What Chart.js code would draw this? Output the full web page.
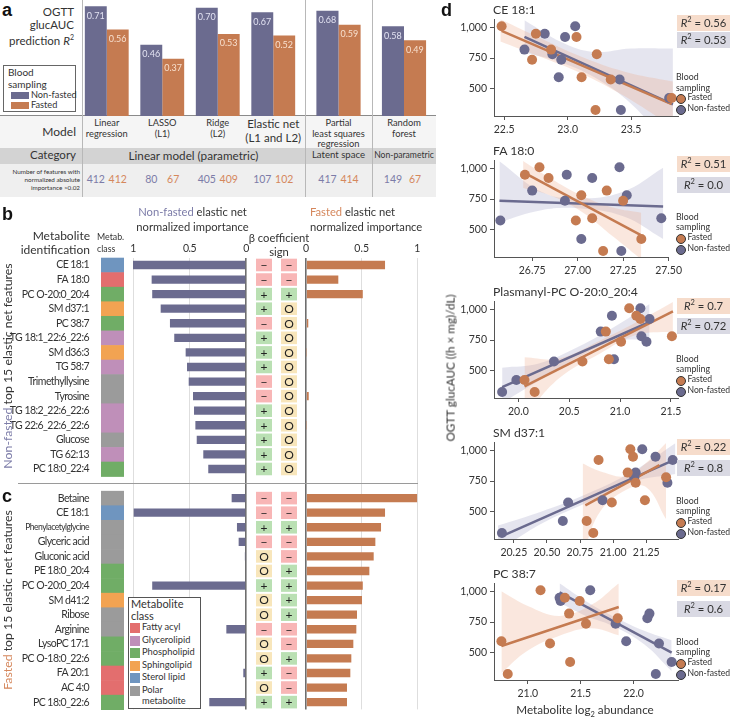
<!DOCTYPE html>
<html>
<head>
<meta charset="utf-8">
<script src="https://cdn.jsdelivr.net/npm/chart.js@4.4.1/dist/chart.umd.min.js"></script>
<style>
  body { margin: 0; background: #fff; font-family: Lato, sans-serif; color: #333; }
  #page { position: relative; width: 730px; height: 721px; overflow: hidden; }
  #page div, #page canvas { position: absolute; }
  .t { white-space: nowrap; line-height: 1.1; }
  .panel { font-family: "Liberation Sans", Arial, sans-serif; font-weight: bold; font-size: 18px; color: #111; }
</style>
</head>
<body>
<div id="page"></div>
<script>
// ---- panel a: model comparison ----
const modelNames = [['Linear', 'regression'], ['LASSO', '(L1)'], ['Ridge', '(L2)'], ['Elastic net', '(L1 and L2)'],
  ['Partial', 'least squares', 'regression'], ['Random', 'forest']];
const modelCategories = ['Linear model (parametric)', 'Latent space', 'Non-parametric'];
const r2NonFasted = [0.71, 0.46, 0.70, 0.67, 0.68, 0.58];
const r2Fasted = [0.56, 0.37, 0.53, 0.52, 0.59, 0.49];
const nFeatNonFasted = [412, 80, 405, 107, 417, 149];
const nFeatFasted = [412, 67, 409, 102, 414, 67];

// ---- panels b and c: top 15 elastic net features ----
const bNames = ['CE 18:1', 'FA 18:0', 'PC O-20:0_20:4', 'SM d37:1', 'PC 38:7', 'TG 18:1_22:6_22:6', 'SM d36:3', 'TG 58:7',
  'Trimethyllysine', 'Tyrosine', 'TG 18:2_22:6_22:6', 'TG 22:6_22:6_22:6', 'Glucose', 'TG 62:13', 'PC 18:0_22:4'];
const bClass = ['Sterol lipid', 'Fatty acyl', 'Phospholipid', 'Sphingolipid', 'Phospholipid', 'Glycerolipid', 'Sphingolipid',
  'Glycerolipid', 'Polar metabolite', 'Polar metabolite', 'Glycerolipid', 'Glycerolipid', 'Polar metabolite', 'Glycerolipid', 'Phospholipid'];
const bImpNonFasted = [1.0, 0.835, 0.83, 0.755, 0.673, 0.635, 0.534, 0.522, 0.507, 0.469, 0.46, 0.448, 0.436, 0.378, 0.334];
const bImpFasted = [0.71, 0.29, 0.51, 0, 0.02, 0, 0.004, 0, 0, 0.024, 0, 0.004, 0, 0, 0];
const bSignNonFasted = ['-', '-', '+', '+', '-', '+', '+', '+', '-', '-', '+', '+', '+', '+', '+'];
const bSignFasted = ['-', '-', '+', 'O', 'O', 'O', 'O', 'O', 'O', 'O', 'O', 'O', 'O', 'O', 'O'];

const cNames = ['Betaine', 'CE 18:1', 'Phenylacetylglycine', 'Glyceric acid', 'Gluconic acid', 'PE 18:0_20:4', 'PC O-20:0_20:4',
  'SM d41:2', 'Ribose', 'Arginine', 'LysoPC 17:1', 'PC O-18:0_22:6', 'FA 20:1', 'AC 4:0', 'PC 18:0_22:6'];
const cClass = ['Polar metabolite', 'Sterol lipid', 'Polar metabolite', 'Polar metabolite', 'Polar metabolite', 'Phospholipid',
  'Phospholipid', 'Sphingolipid', 'Polar metabolite', 'Polar metabolite', 'Phospholipid', 'Phospholipid', 'Fatty acyl', 'Fatty acyl', 'Phospholipid'];
const cImpNonFasted = [0.127, 0.994, 0.08, 0.065, 0.01, 0, 0.83, 0, 0, 0.174, 0, 0, 0.024, 0, 0.325];
const cImpFasted = [1.0, 0.71, 0.674, 0.623, 0.608, 0.569, 0.51, 0.503, 0.458, 0.452, 0.425, 0.407, 0.398, 0.368, 0.368];
const cSignNonFasted = ['-', '-', '+', '-', 'O', 'O', '+', 'O', 'O', '-', 'O', 'O', '+', 'O', '+'];
const cSignFasted = ['-', '-', '+', '-', '-', '+', '+', '+', '+', '-', '-', '+', '-', '-', '+'];

const classNames = ['Fatty acyl', 'Glycerolipid', 'Phospholipid', 'Sphingolipid', 'Sterol lipid', 'Polar metabolite'];

// ---- panel d: glucAUC vs metabolite abundance (one value per subject) ----
const glucAUC = [1008, 947, 922, 819, 781, 736, 595, 577, 426, 328];
const dYTicks = [500, 750, 1000];
const dTitles = ['CE 18:1', 'FA 18:0', 'Plasmanyl-PC O-20:0_20:4', 'SM d37:1', 'PC 38:7'];
const dR2Fasted = ['0.56', '0.51', '0.7', '0.22', '0.17'];
const dR2NonFasted = ['0.53', '0.0', '0.72', '0.8', '0.6'];

const ce181Fasted = [22.48, 22.75, 23.07, 22.87, 23.23, 22.72, 23.11, 23.34, 23.82, 23.22];
const ce181NonFasted = [23.06, 22.82, 22.98, 22.66, 22.88, 22.95, 22.93, 23.41, 23.80, 23.42];
const ce181FitFasted = [[22.48, 971], [23.82, 377]];
const ce181FitNonFasted = [[22.66, 922], [23.83, 375]];
const ce181BandFasted = [[22.47, 885, 1065], [22.8, 755, 905], [23.1, 630, 765], [23.45, 440, 640], [23.83, 190, 560]];
const ce181BandNonFasted = [[22.66, 795, 1057], [22.95, 715, 880], [23.2, 600, 800], [23.5, 380, 828], [23.83, 0, 828]];

const fa180Fasted = [26.79, 26.71, 26.84, 27.16, 27.02, 27.25, 27.08, 26.99, 27.35, 27.14];
const fa180NonFasted = [27.23, 26.94, 27.08, 26.75, 27.27, 26.93, 27.46, 26.575, 27.02, 27.24];
const fa180FitFasted = [[26.71, 961], [27.345, 459]];
const fa180FitNonFasted = [[26.57, 737], [27.47, 690]];
const fa180BandFasted = [[26.70, 840, 1060], [26.85, 780, 920], [27.02, 650, 780], [27.2, 440, 680], [27.35, 260, 640]];
const fa180BandNonFasted = [[26.57, 563, 1058], [26.8, 660, 810], [27.0, 675, 755], [27.25, 610, 810], [27.47, 426, 1005]];

const pcO20Fasted = [21.09, 21.16, 21.20, 20.86, 21.51, 21.01, 20.89, 20.63, 20.06, 20.16];
const pcO20NonFasted = [21.20, 20.92, 21.29, 20.81, 21.21, 21.26, 20.94, 20.35, 19.98, 19.84];
const pcO20FitFasted = [[20.06, 374], [21.52, 984]];
const pcO20FitNonFasted = [[19.84, 369], [21.29, 897]];
const pcO20BandFasted = [[20.06, 130, 610], [20.4, 440, 600], [20.8, 640, 745], [21.15, 790, 890], [21.52, 820, 1060]];
const pcO20BandNonFasted = [[19.84, 240, 526], [20.2, 420, 560], [20.6, 615, 700], [20.95, 740, 860], [21.29, 755, 1044]];

const smd371Fasted = [21.13, 21.15, 20.89, 21.11, 21.40, 21.17, 21.24, 20.99, 20.80, 20.85];
const smd371NonFasted = [21.22, 21.32, 21.45, 21.17, 21.16, 21.41, 20.92, 20.66, 20.62, 20.16];
const smd371FitFasted = [[20.79, 553], [21.35, 879]];
const smd371FitNonFasted = [[20.16, 303], [21.47, 927]];
const smd371BandFasted = [[20.77, 150, 892], [20.9, 500, 830], [21.1, 680, 790], [21.25, 700, 900], [21.40, 440, 1060]];
const smd371BandNonFasted = [[20.13, 180, 390], [20.45, 400, 500], [20.8, 575, 645], [21.15, 745, 830], [21.47, 808, 1058]];

const pc387Fasted = [21.12, 21.35, 21.49, 21.39, 21.85, 21.55, 20.75, 21.21, 21.40, 20.81];
const pc387NonFasted = [21.59, 21.30, 21.31, 22.15, 22.13, 21.83, 21.93, 22.24, 22.36, 22.21];
const pc387FitFasted = [[20.75, 556], [21.86, 873]];
const pc387FitNonFasted = [[21.30, 992], [22.36, 502]];
const pc387BandFasted = [[20.75, 338, 1000], [21.0, 520, 880], [21.3, 640, 800], [21.6, 700, 890], [21.86, 643, 1066]];
const pc387BandNonFasted = [[21.30, 907, 1066], [21.55, 800, 920], [21.8, 720, 800], [22.1, 570, 680], [22.36, 351, 603]];

// ---- styling ----
const purple = '#6b6b8f';
const orange = '#c57b51';
const purpleText = '#7c7ca8';
const orangeText = '#d5875c';
const classColors = { 'Fatty acyl': '#e36e6e', 'Glycerolipid': '#bf8fb9', 'Phospholipid': '#70ad66',
  'Sphingolipid': '#f2a352', 'Sterol lipid': '#6f95bf', 'Polar metabolite': '#9b9b9b' };
const signColors = { '-': '#f8b6b6', '+': '#bae0b3', 'O': '#f8e6bb' };
const signText = { '-': '\u2212', '+': '+', 'O': 'O' };

Chart.defaults.font.family = 'Lato, sans-serif';
Chart.defaults.color = '#333';

const page = document.getElementById('page');

function box(x, y, w, h, css) {
  const d = document.createElement('div');
  Object.assign(d.style, { left: x + 'px', top: y + 'px', width: w + 'px', height: h + 'px' }, css || {});
  page.appendChild(d);
  return d;
}

function label(html, x, y, size, align, css) {
  const d = document.createElement('div');
  d.className = 't';
  d.innerHTML = html;
  const shift = align === 'center' ? '-50%' : align === 'right' ? '-100%' : '0';
  Object.assign(d.style, { left: x + 'px', top: y + 'px', fontSize: size + 'px',
    transform: 'translateX(' + shift + ')', textAlign: align || 'left' }, css || {});
  page.appendChild(d);
  return d;
}

function vlabel(html, cx, cy, size) {
  const d = document.createElement('div');
  d.className = 't';
  d.innerHTML = html;
  Object.assign(d.style, { left: cx + 'px', top: cy + 'px', fontSize: size + 'px',
    transform: 'translate(-50%, -50%) rotate(-90deg)' });
  page.appendChild(d);
}

function canvas(x, y, w, h) {
  const c = document.createElement('canvas');
  c.width = w;
  c.height = h;
  c.style.left = x + 'px';
  c.style.top = y + 'px';
  page.appendChild(c);
  return c;
}

// ================= panel a =================
box(0, 116, 436, 32, { background: '#f5f5f5' });
box(0, 148, 436, 16, { background: '#d3d3d3' });
box(0, 164, 436, 33, { background: '#efefef' });
box(0, 115, 436, 1, { background: '#8a8a8a' });
[82, 305, 372].forEach(x => box(x, 0, 1, 197, { background: '#b8b8b8' }));

const barValueLabels = {
  id: 'barValueLabels',
  afterDatasetsDraw(chart) {
    const ctx = chart.ctx;
    chart.data.datasets.forEach((ds, di) => {
      chart.getDatasetMeta(di).data.forEach((bar, i) => {
        ctx.save();
        ctx.font = '9px Lato, sans-serif';
        ctx.fillStyle = di === 0 ? '#e2e2f2' : '#f8e0cf';
        ctx.textBaseline = 'top';
        ctx.fillText(ds.data[i].toFixed(2), bar.x - bar.width / 2 + 2, bar.y + 5);
        ctx.restore();
      });
    });
  }
};

const aSections = [[0, 4, 79, 222, 0.79], [4, 5, 305, 67, 0.66], [5, 6, 372, 64, 0.69]];
aSections.forEach(([from, to, left, width, pct]) => {
  const chart = new Chart(canvas(left, 0, width, 116), {
    type: 'bar',
    data: {
      labels: modelNames.slice(from, to),
      datasets: [
        { label: 'Non-fasted', data: r2NonFasted.slice(from, to), backgroundColor: purple },
        { label: 'Fasted', data: r2Fasted.slice(from, to), backgroundColor: orange }
      ]
    },
    options: {
      responsive: false, animation: false, events: [],
      datasets: { bar: { categoryPercentage: pct, barPercentage: 1 } },
      layout: { padding: 0 },
      plugins: { legend: { display: false }, tooltip: { enabled: false } },
      scales: { x: { display: false }, y: { display: false, min: 0, max: 0.75 } }
    },
    plugins: [barValueLabels]
  });
  for (let i = from; i < to; i++) {
    const cx = left + chart.scales.x.getPixelForValue(i - from);
    const big = i === 3;
    label(modelNames[i].join('<br>'), cx, big ? 117 : 118, big ? 11.5 : 9.3, 'center',
      { lineHeight: big ? '13.5px' : '10.5px', color: '#333' });
    label(String(nFeatNonFasted[i]), left + chart.getDatasetMeta(0).data[i - from].x, 174, 10.5, 'center', { color: purpleText });
    label(String(nFeatFasted[i]), left + chart.getDatasetMeta(1).data[i - from].x, 174, 10.5, 'center', { color: orangeText });
  }
});

label(modelCategories[0], 193.5, 149, 11.7, 'center');
label(modelCategories[1], 338.5, 150, 9.6, 'center');
label(modelCategories[2], 404, 150.5, 8.6, 'center');
label('Model', 76, 125, 12, 'right');
label('Category', 76, 149, 11.5, 'right');
label('Number of features with<br>normalized absolute<br>importance &gt;0.02', 80, 167.5, 6.3, 'right', { lineHeight: '8.3px' });

label('a', 2, 1, 18, 'left', {}).className = 't panel';
label('OGTT<br>glucAUC<br>prediction <i>R</i><sup style="font-size:7px">2</sup>', 74, 6, 11.5, 'right', { lineHeight: '12.5px' });
box(3, 65, 71, 45, { border: '1px solid #666', background: '#fff' });
label('Blood<br>sampling', 8, 67, 10, 'left', { lineHeight: '11.5px' });
box(11, 91.5, 18, 7.5, { background: purple });
box(11, 101.5, 18, 7.5, { background: orange });
label('Non-fasted', 31, 89.5, 9.2);
label('Fasted', 31, 99.5, 9.2);

// ================= panels b and c =================
const impLabels = bNames.concat([''], cNames);
const impClasses = bClass.concat([null], cClass);
const impNonFasted = bImpNonFasted.concat([null], cImpNonFasted);
const impFasted = bImpFasted.concat([null], cImpFasted);
const impSignNonFasted = bSignNonFasted.concat([null], cSignNonFasted);
const impSignFasted = bSignFasted.concat([null], cSignFasted);

const tightText = {
  id: 'tightText',
  beforeDraw(chart) { chart.ctx.letterSpacing = '-0.55px'; },
  afterDraw(chart) { chart.ctx.letterSpacing = '0px'; }
};

const classAndSignCells = {
  id: 'classAndSignCells',
  afterDraw(chart) {
    const ctx = chart.ctx;
    const y = chart.scales.y;
    const step = (y.bottom - y.top) / impLabels.length;
    const sign = (s, x, yc) => {
      ctx.fillStyle = signColors[s];
      ctx.fillRect(x, yc - 6.3, 16, 12.6);
      ctx.fillStyle = '#222';
      ctx.font = '12px Lato, sans-serif';
      ctx.textAlign = 'center';
      ctx.textBaseline = 'middle';
      ctx.fillText(signText[s], x + 8, yc + 0.5);
    };
    ctx.save();
    impLabels.forEach((lab, i) => {
      if (!lab) return;
      const yc = y.getPixelForValue(i);
      ctx.fillStyle = classColors[impClasses[i]];
      ctx.fillRect(101, yc - step / 2, 23, step + 0.6);
      sign(impSignNonFasted[i], 256, yc);
      sign(impSignFasted[i], 281, yc);
    });
    ctx.restore();
  }
};

const importanceAxis = {
  position: 'top', min: 0, max: 1,
  afterFit(s) { s.height = 57.7; },
  ticks: { stepSize: 0.5, maxRotation: 0, padding: 3, font: { size: 10.5 }, color: '#333', callback: v => String(v) },
  grid: { drawTicks: false, color: c => (c.tick && c.tick.value === 0 ? '#6e6e6e' : '#dedede'),
    lineWidth: c => (c.tick && c.tick.value === 0 ? 1.6 : 1) },
  border: { display: false }
};

new Chart(canvas(0, 200, 300, 515), {
  type: 'bar',
  data: { labels: impLabels, datasets: [{ data: impNonFasted, backgroundColor: purple, barPercentage: 0.57, categoryPercentage: 1 }] },
  options: {
    indexAxis: 'y', responsive: false, animation: false, events: [],
    layout: { padding: { right: 54, bottom: 5.6 } },
    plugins: { legend: { display: false }, tooltip: { enabled: false } },
    scales: {
      x: Object.assign({}, importanceAxis, { reverse: true }),
      y: {
        afterFit(s) { s.width = 133; s.paddingTop = 0; s.paddingBottom = 0; },
        ticks: { autoSkip: false, padding: 36, color: '#333',
          font: c => ({ size: c.tick && c.tick.label === 'Phenylacetylglycine' ? 8.6 : 10.5 }) },
        grid: { display: false }, border: { display: false }
      }
    }
  },
  plugins: [tightText, classAndSignCells]
});

new Chart(canvas(300, 200, 136, 515), {
  type: 'bar',
  data: { labels: impLabels, datasets: [{ data: impFasted, backgroundColor: orange, barPercentage: 0.57, categoryPercentage: 1 }] },
  options: {
    indexAxis: 'y', responsive: false, animation: false, events: [],
    layout: { padding: { left: 6, right: 18.7, bottom: 5.6 } },
    plugins: { legend: { display: false }, tooltip: { enabled: false } },
    scales: { x: importanceAxis, y: { display: false } }
  }
});

box(18, 483, 400, 1, { background: '#9a9a9a' });
label('b', 2, 205, 18).className = 't panel';
label('c', 2, 487, 18).className = 't panel';
label('<span style="color:' + purpleText + '">Non-fasted</span> elastic net<br>normalized importance', 192.5, 204, 11.2, 'center', { lineHeight: '15px' });
label('<span style="color:' + orangeText + '">Fasted</span> elastic net<br>normalized importance', 310, 204, 11.2, 'left', { lineHeight: '15px' });
label('Metabolite<br>identification', 90, 229, 12, 'right', { lineHeight: '13.5px' });
label('Metab.<br>class', 97, 231, 8.8, 'left', { lineHeight: '12px' });
label('\u03b2 coefficient<br>sign', 279, 231, 11.2, 'center', { lineHeight: '13.5px' });
vlabel('<span style="color:' + purpleText + '">Non-fasted</span> top 15 elastic net features', 8, 366, 12.3);
vlabel('<span style="color:' + orangeText + '">Fasted</span> top 15 elastic net features', 8, 600, 12.3);

box(127.5, 596.5, 71, 110, { border: '1px solid #555', background: '#fff' });
label('Metabolite<br>class', 131, 597.5, 11, 'left', { lineHeight: '12.5px' });
classNames.forEach((name, i) => {
  const yc = 628 + i * 12.6;
  box(130, yc - 5, 10, 10, { background: classColors[name] });
  label(name === 'Polar metabolite' ? 'Polar<br>metabolite' : name, 142, yc - 6, 9.3, 'left', { lineHeight: '10.5px' });
});

// ================= panel d =================
const dPlots = [
  { f: ce181Fasted, n: ce181NonFasted, fitF: ce181FitFasted, fitN: ce181FitNonFasted, bandF: ce181BandFasted, bandN: ce181BandNonFasted,
    xMin: 22.42, xMax: 23.87, step: 0.5, dec: 1, bottom: 116, r2Top: [15, 32], legTop: 72 },
  { f: fa180Fasted, n: fa180NonFasted, fitF: fa180FitFasted, fitN: fa180FitNonFasted, bandF: fa180BandFasted, bandN: fa180BandNonFasted,
    xMin: 26.54, xMax: 27.5, step: 0.25, dec: 2, bottom: 256.7, r2Top: [156, 177], legTop: 211.5 },
  { f: pcO20Fasted, n: pcO20NonFasted, fitF: pcO20FitFasted, fitN: pcO20FitNonFasted, bandF: pcO20BandFasted, bandN: pcO20BandNonFasted,
    xMin: 19.76, xMax: 21.57, step: 0.5, dec: 1, bottom: 398.3, r2Top: [298, 318], legTop: 353.5 },
  { f: smd371Fasted, n: smd371NonFasted, fitF: smd371FitFasted, fitN: smd371FitNonFasted, bandF: smd371BandFasted, bandN: smd371BandNonFasted,
    xMin: 20.10, xMax: 21.49, step: 0.25, dec: 2, bottom: 539.3, r2Top: [439, 460], legTop: 495.5 },
  { f: pc387Fasted, n: pc387NonFasted, fitF: pc387FitFasted, fitN: pc387FitNonFasted, bandF: pc387BandFasted, bandN: pc387BandNonFasted,
    xMin: 20.68, xMax: 22.42, step: 0.5, dec: 1, bottom: 680, r2Top: [580, 601], legTop: 636.5 }
];

const noLine = { borderWidth: 0, borderColor: 'transparent', pointRadius: 0, tension: 0.4 };

dPlots.forEach((p, k) => {
  new Chart(canvas(440, p.bottom - 106, 245, 128), {
    type: 'line',
    data: {
      datasets: [
        { data: p.f.map((x, i) => ({ x, y: glucAUC[i] })), showLine: false, pointRadius: 5, pointBackgroundColor: orange, pointBorderWidth: 0 },
        { data: p.n.map((x, i) => ({ x, y: glucAUC[i] })), showLine: false, pointRadius: 5, pointBackgroundColor: purple, pointBorderWidth: 0 },
        { data: p.fitF.map(([x, y]) => ({ x, y })), borderColor: orange, borderWidth: 2.5, pointRadius: 0 },
        { data: p.fitN.map(([x, y]) => ({ x, y })), borderColor: purple, borderWidth: 2.5, pointRadius: 0 },
        Object.assign({ data: p.bandF.map(([x, lo, hi]) => ({ x, y: hi })), fill: false }, noLine),
        Object.assign({ data: p.bandF.map(([x, lo]) => ({ x, y: lo })), fill: '-1', backgroundColor: 'rgba(236,170,135,0.28)' }, noLine),
        Object.assign({ data: p.bandN.map(([x, lo, hi]) => ({ x, y: hi })), fill: false }, noLine),
        Object.assign({ data: p.bandN.map(([x, lo]) => ({ x, y: lo })), fill: '-1', backgroundColor: 'rgba(150,150,190,0.25)' }, noLine)
      ]
    },
    options: {
      responsive: false, animation: false, events: [],
      layout: { padding: { top: 5, right: 7 } },
      plugins: { legend: { display: false }, tooltip: { enabled: false } },
      scales: {
        x: {
          type: 'linear', min: p.xMin, max: p.xMax,
          afterFit(s) { s.height = 22; },
          ticks: { stepSize: p.step, includeBounds: false, maxRotation: 0, padding: 3, font: { size: 10.5 },
            callback: v => Number(v).toFixed(p.dec) },
          grid: { drawOnChartArea: false, tickLength: 4, color: '#555' },
          border: { color: '#555' }
        },
        y: {
          min: 280, max: 1065,
          afterFit(s) { s.width = 54; },
          afterBuildTicks(s) { s.ticks = dYTicks.map(value => ({ value })); },
          ticks: { padding: 3, font: { size: 10.5 }, callback: v => Number(v).toLocaleString('en-US') },
          grid: { drawOnChartArea: false, tickLength: 4, color: '#555' },
          border: { color: '#555' }
        }
      }
    }
  });

  label(dTitles[k], 493, p.bottom - 113, 12.2);
  box(677, p.r2Top[0], 53, 16, { background: '#f6dccb' });
  box(677, p.r2Top[1], 53, 16, { background: '#d9d9e3' });
  label('<i>R</i><sup style="font-size:7.5px">2</sup> = ' + dR2Fasted[k], 703.5, p.r2Top[0] + 0.5, 11.3, 'center');
  label('<i>R</i><sup style="font-size:7.5px">2</sup> = ' + dR2NonFasted[k], 703.5, p.r2Top[1] + 0.5, 11.3, 'center');
  label('Blood<br>sampling', 676, p.legTop, 8.8, 'left', { lineHeight: '10.8px' });
  box(676, p.legTop + 22, 8, 8, { background: orange, border: '1px solid #333', borderRadius: '50%' });
  box(676, p.legTop + 33, 8, 8, { background: purple, border: '1px solid #333', borderRadius: '50%' });
  label('Fasted', 687.5, p.legTop + 21, 8.6);
  label('Non-fasted', 687.5, p.legTop + 32, 8.6);
});

label('d', 441, 1, 18).className = 't panel';
vlabel('OGTT glucAUC ((h \u00d7 mg)/dL)', 450, 368, 11.7);
label('Metabolite log<sub style="font-size:7.5px">2</sub> abundance', 585, 703, 11.7, 'center');
</script>
</body>
</html>
